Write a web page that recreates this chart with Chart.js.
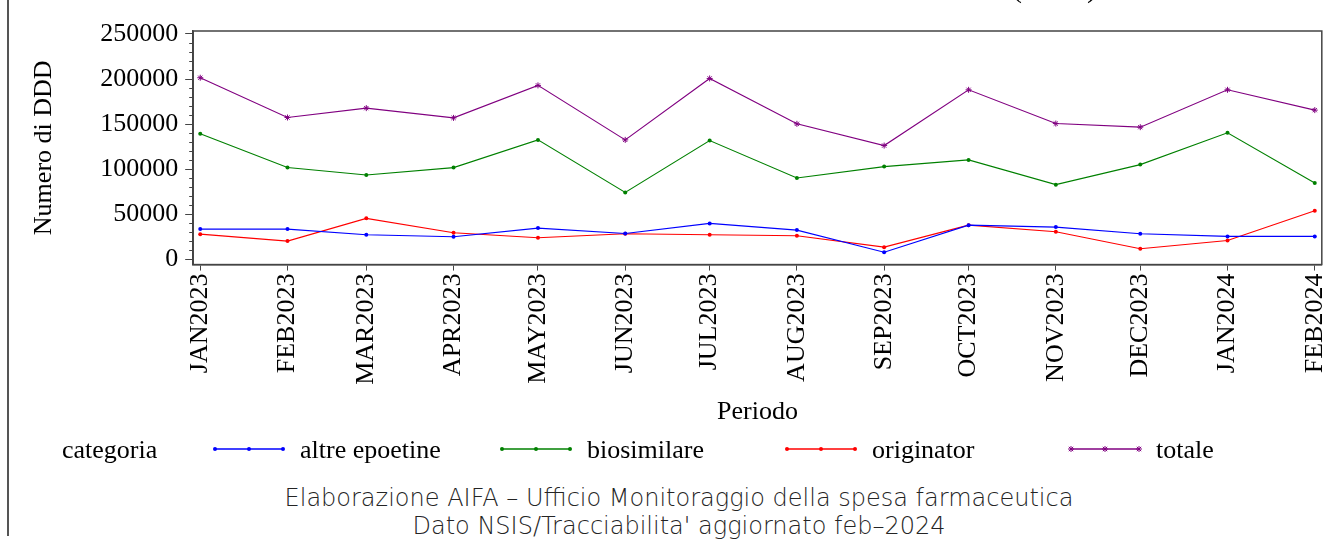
<!DOCTYPE html>
<html>
<head>
<meta charset="utf-8">
<script src="https://cdn.jsdelivr.net/npm/chart.js@4.4.1/dist/chart.umd.min.js"></script>
<style>
  body { margin: 0; width: 1336px; height: 539px; background: #fff; position: relative; overflow: hidden; font-family: "Liberation Serif", serif; color: #000; }
  #c { position: absolute; left: 0; top: 0; }
  #edge { position: absolute; left: 7px; top: 0; height: 536px; border-left: 2px solid #555; }
  .leg { position: absolute; top: 433px; font-size: 26px; line-height: 34px; white-space: nowrap; }
  .leg svg { position: absolute; top: 11px; left: 0; }
  .note { position: absolute; left: 0; width: 1358px; text-align: center; font-family: "DejaVu Sans", sans-serif; font-weight: 200; font-size: 24px; line-height: 28px; color: #222; white-space: nowrap; opacity: 0.99; }
</style>
</head>
<body>
<div id="edge"></div>
<canvas id="c" width="1349" height="440"></canvas>
<div id="legend"></div>
<div class="note" style="top:484px">Elaborazione AIFA – Ufficio Monitoraggio della spesa farmaceutica</div>
<div class="note" style="top:512px">Dato NSIS/Tracciabilita' aggiornato feb–2024</div>
<script>
const periodi = ["JAN2023", "FEB2023", "MAR2023", "APR2023", "MAY2023", "JUN2023", "JUL2023",
  "AUG2023", "SEP2023", "OCT2023", "NOV2023", "DEC2023", "JAN2024", "FEB2024"];
const altreEpoetine = [33700, 33700, 27400, 25200, 34800, 28900, 40000, 32600, 8100, 38100, 35900, 28500, 25600, 25600];
const biosimilare = [139300, 101900, 93700, 101900, 132600, 74400, 131800, 90400, 103000, 110400, 83000, 105200, 140400, 84800];
const originator = [28100, 20400, 45600, 29600, 24100, 28500, 27400, 26300, 13700, 38100, 30700, 11900, 21100, 54100];
const totale = [201500, 157400, 167800, 157000, 193000, 132600, 200700, 150400, 126300, 188100, 150700, 146700, 188100, 165600];
const yTicks = [0, 50000, 100000, 150000, 200000, 250000];

const MESI = ["JAN", "FEB", "MAR", "APR", "MAY", "JUN", "JUL", "AUG", "SEP", "OCT", "NOV", "DEC"];
// x is a day count from 1 Jan 2023, so months are spaced by their length
function giorno(lbl) {
  const m = MESI.indexOf(lbl.slice(0, 3));
  const y = +lbl.slice(3);
  return (Date.UTC(y, m, 1) - Date.UTC(2023, 0, 1)) / 864e5;
}
const xs = periodi.map(giorno);
const pts = arr => arr.map((v, i) => ({ x: xs[i], y: v }));

const serie = [
  { label: "altre epoetine", data: altreEpoetine, color: "#0000ff", style: "circle" },
  { label: "biosimilare", data: biosimilare, color: "#008000", style: "circle" },
  { label: "originator", data: originator, color: "#ff0000", style: "circle" },
  { label: "totale", data: totale, color: "#800080", style: "star" },
];

const framePlugin = {
  id: "frame",
  afterDraw(chart) {
    const { ctx, chartArea: a, scales: { y } } = chart;
    ctx.save();
    ctx.strokeStyle = "#444";
    ctx.lineWidth = 1.5;
    ctx.strokeRect(a.left, a.top, a.right - a.left, a.bottom - a.top);
    // minor ticks every 10000
    ctx.lineWidth = 1;
    ctx.beginPath();
    for (let v = 10000; v < 250000; v += 10000) {
      if (v % 50000 === 0) continue;
      const py = Math.round(y.getPixelForValue(v)) + 0.5;
      ctx.moveTo(a.left - 4, py);
      ctx.lineTo(a.left, py);
    }
    ctx.stroke();
    // tail of the title cut off at the top
    ctx.fillStyle = "#000";
    ctx.font = '30px "Liberation Serif"';
    ctx.textBaseline = "alphabetic";
    ctx.fillText("(DDD)", 1012, -3);
    ctx.restore();
  },
};

Chart.defaults.font.family = '"Liberation Serif", serif';
Chart.defaults.font.size = 26;
Chart.defaults.color = "#000";

new Chart(document.getElementById("c"), {
  type: "line",
  data: {
    datasets: serie.map(s => ({
      label: s.label,
      data: pts(s.data),
      borderColor: s.color,
      backgroundColor: s.color,
      borderWidth: 1.1,
      pointStyle: s.style,
      pointRadius: s.style === "star" ? 3 : 2,
      pointBorderWidth: s.style === "star" ? 1 : 0,
      tension: 0,
    })),
  },
  options: {
    responsive: false,
    animation: false,
    devicePixelRatio: 1,
    layout: { padding: { left: 25, top: 31, right: 2, bottom: 0 } },
    plugins: { legend: { display: false }, tooltip: { enabled: false } },
    scales: {
      x: {
        type: "linear",
        min: -2.5,
        max: 398.5,
        afterBuildTicks: sc => { sc.ticks = xs.map(v => ({ value: v })); },
        ticks: {
          autoSkip: false,
          minRotation: 90,
          maxRotation: 90,
          padding: 3,
          callback: v => periodi[xs.indexOf(v)],
        },
        grid: { drawOnChartArea: false, tickLength: 6, tickColor: "#444" },
        border: { color: "#444", width: 1.5 },
        title: { display: true, text: "Periodo", padding: { top: 9, bottom: 12 } },
      },
      y: {
        min: -5600,
        max: 253300,
        afterBuildTicks: sc => { sc.ticks = yTicks.map(v => ({ value: v })); },
        ticks: { padding: 7, autoSkip: false, callback: v => String(v) },
        grid: { drawOnChartArea: false, tickLength: 8, tickColor: "#444" },
        border: { color: "#444", width: 1.5 },
        title: { display: true, text: "Numero di DDD", padding: { top: 4, bottom: 33 } },
      },
    },
  },
  plugins: [framePlugin],
});

// legend row drawn as html
const legPos = [215, 502, 787, 1071];
const leg = document.getElementById("legend");
const cat = document.createElement("div");
cat.className = "leg";
cat.style.left = "62px";
cat.textContent = "categoria";
leg.appendChild(cat);
serie.forEach((s, i) => {
  const d = document.createElement("div");
  d.className = "leg";
  d.style.left = (legPos[i] - 3) + "px";
  d.style.paddingLeft = "88px";
  let marks = "";
  [3, 37, 71].forEach(cx => {
    if (s.style === "star") {
      marks += `<path d="M${cx - 3} 5h6M${cx} 2v6M${cx - 2.2} 2.8l4.4 4.4M${cx + 2.2} 2.8l-4.4 4.4" stroke="${s.color}" stroke-width="1"/>`;
    } else {
      marks += `<circle cx="${cx}" cy="5" r="2" fill="${s.color}"/>`;
    }
  });
  d.innerHTML = `<svg width="74" height="10"><line x1="3" y1="5" x2="71" y2="5" stroke="${s.color}" stroke-width="1.5"/>${marks}</svg>${s.label}`;
  leg.appendChild(d);
});
</script>
</body>
</html>
